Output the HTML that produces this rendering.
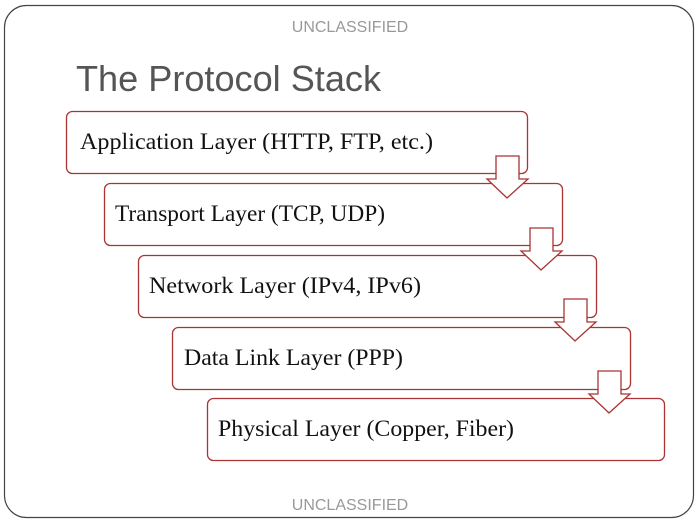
<!DOCTYPE html>
<html><head><style>body{margin:0;background:#fff}svg{display:block}</style></head><body>
<svg width="700" height="525" viewBox="0 0 700 525" xmlns="http://www.w3.org/2000/svg">
<rect x="4.5" y="5.5" width="689" height="512" rx="22" fill="#fff" stroke="#444" stroke-width="1.2"/>
<g font-family="Liberation Sans, sans-serif" font-size="16" fill="#999" text-anchor="middle">
<text x="350" y="32">UNCLASSIFIED</text>
<text x="350" y="510">UNCLASSIFIED</text>
</g>
<text x="76" y="91" font-family="Liberation Sans, sans-serif" font-size="36" fill="#555" textLength="305" lengthAdjust="spacingAndGlyphs">The Protocol Stack</text>
<g fill="#fff" stroke="#a33" stroke-width="1.3">
<rect x="66.5" y="111.5" width="461" height="62" rx="6"/>
<rect x="104.5" y="183.5" width="458" height="62" rx="6"/>
<rect x="138.5" y="255.5" width="458" height="62" rx="6"/>
<rect x="172.5" y="327.5" width="458" height="62" rx="6"/>
<rect x="207.5" y="398.5" width="457" height="62" rx="6"/>
</g>
<g fill="#fff" stroke="#a33" stroke-width="1.3" stroke-linejoin="miter">
<polygon points="496,156 519,156 519,179 528,179 507,198 487,179 496,179"/>
<polygon points="530,228 553,228 553,251 562,251 541,270 521,251 530,251"/>
<polygon points="564,299 587,299 587,322 596,322 575,341 555,322 564,322"/>
<polygon points="598,371 621,371 621,394 630,394 609,413 589,394 598,394"/>
</g>
<g font-family="Liberation Serif, serif" font-size="23" fill="#111">
<text x="80" y="149" textLength="353" lengthAdjust="spacingAndGlyphs">Application Layer (HTTP, FTP, etc.)</text>
<text x="115" y="221" textLength="270" lengthAdjust="spacingAndGlyphs">Transport Layer (TCP, UDP)</text>
<text x="149" y="293" textLength="272" lengthAdjust="spacingAndGlyphs">Network Layer (IPv4, IPv6)</text>
<text x="184" y="365" textLength="219" lengthAdjust="spacingAndGlyphs">Data Link Layer (PPP)</text>
<text x="218" y="436" textLength="296" lengthAdjust="spacingAndGlyphs">Physical Layer (Copper, Fiber)</text>
</g>
</svg>
</body></html>
